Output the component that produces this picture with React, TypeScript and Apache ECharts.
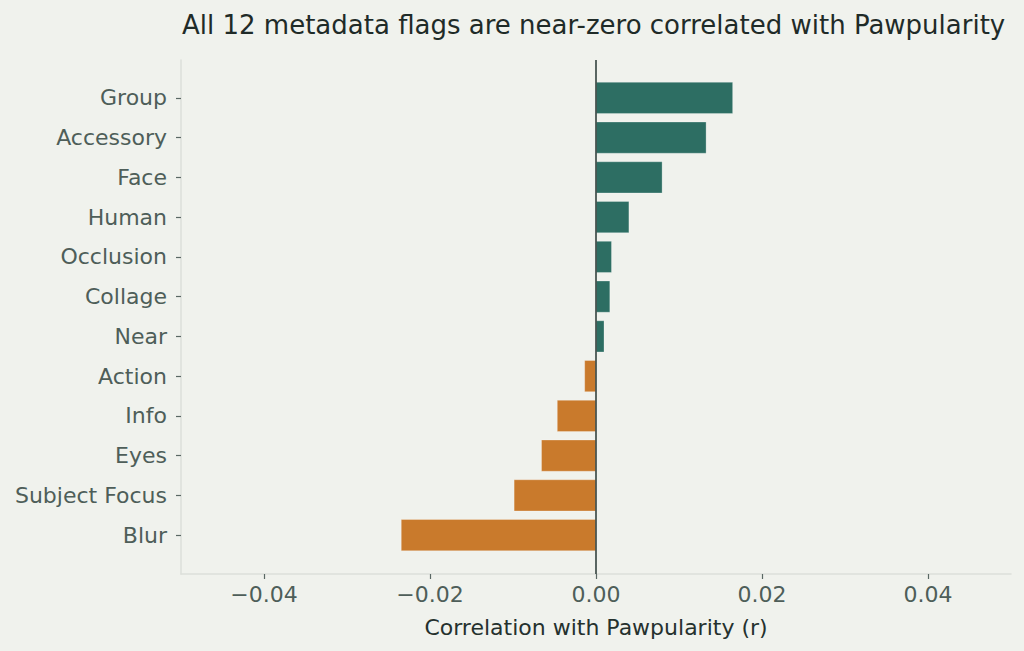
import { useEffect, useRef } from "react";
import * as echarts from "echarts";

const flags = [
  "Group",
  "Accessory",
  "Face",
  "Human",
  "Occlusion",
  "Collage",
  "Near",
  "Action",
  "Info",
  "Eyes",
  "Subject Focus",
  "Blur",
];
const correlations = [
  0.0165, 0.0133, 0.008, 0.004, 0.0019, 0.0017, 0.001, -0.0014, -0.0047,
  -0.0066, -0.0099, -0.0235,
];
const xTicks = [-0.04, -0.02, 0, 0.02, 0.04];

const POS = "#2d6e63";
const NEG = "#c97a2c";
const FONT = "'DejaVu Sans', sans-serif";

function fmt(v: number) {
  const s = Math.abs(v).toFixed(2);
  return v < 0 ? "\u2212" + s : s;
}

export default function App() {
  const chartRef = useRef<HTMLDivElement>(null);

  useEffect(() => {
    document.body.style.margin = "0";
    if (!chartRef.current) return;
    const chart = echarts.init(chartRef.current, undefined, { renderer: "svg" });

    const option: any = {
      animation: false,
      backgroundColor: "#f0f2ed",
      textStyle: { fontFamily: FONT },
      title: {
        text: "All 12 metadata flags are near-zero correlated with Pawpularity",
        left: 182,
        top: 12,
        padding: 0,
        textStyle: {
          fontFamily: FONT,
          fontSize: 26,
          fontWeight: "normal",
          color: "#1f2b28",
        },
      },
      grid: [
        { left: 181, right: 13, top: 60, bottom: 77 },
        { left: 181, right: 13, top: 78, bottom: 96 },
      ],
      xAxis: [
        {
          gridIndex: 0,
          type: "value",
          min: -0.05,
          max: 0.05,
          splitLine: { show: false },
          axisLine: {
            show: true,
            onZero: false,
            lineStyle: { color: "#dcdfda", width: 1.5 },
          },
          axisTick: {
            show: true,
            customValues: xTicks,
            length: 5,
            lineStyle: { color: "#5a6864", width: 1.2 },
          },
          axisLabel: {
            customValues: xTicks,
            formatter: (v: number) => fmt(v),
            color: "#4e5e59",
            fontSize: 22,
            fontFamily: FONT,
            margin: 9,
          },
          name: "Correlation with Pawpularity (r)",
          nameLocation: "middle",
          nameGap: 42,
          nameTextStyle: { color: "#25312e", fontSize: 22, fontFamily: FONT },
        },
        {
          gridIndex: 1,
          type: "value",
          min: -0.05,
          max: 0.05,
          show: false,
        },
      ],
      yAxis: [
        {
          gridIndex: 0,
          type: "value",
          min: 0,
          max: 1,
          splitLine: { show: false },
          axisTick: { show: false },
          axisLabel: { show: false },
          axisLine: {
            show: true,
            onZero: false,
            lineStyle: { color: "#dcdfda", width: 1.5 },
          },
        },
        {
          gridIndex: 1,
          type: "category",
          data: flags,
          inverse: true,
          axisLine: { show: false, onZero: false },
          axisTick: {
            show: true,
            alignWithLabel: true,
            length: 5,
            lineStyle: { color: "#5a6864", width: 1.2 },
          },
          axisLabel: {
            color: "#4e5e59",
            fontSize: 22,
            fontFamily: FONT,
            margin: 14,
          },
        },
      ],
      series: [
        {
          type: "bar",
          xAxisIndex: 1,
          yAxisIndex: 1,
          barCategoryGap: "20%",
          data: correlations.map((v) => ({
            value: v,
            itemStyle: { color: v >= 0 ? POS : NEG },
          })),
          itemStyle: { borderColor: "rgba(255,255,255,0.45)", borderWidth: 0.6 },
        },
        {
          type: "line",
          xAxisIndex: 0,
          yAxisIndex: 0,
          data: [],
          z: 5,
          markLine: {
            silent: true,
            symbol: "none",
            label: { show: false },
            lineStyle: { color: "#34423e", width: 1.6, type: "solid" },
            data: [{ xAxis: 0 }],
          },
        },
      ],
    };

    chart.setOption(option);
    return () => chart.dispose();
  }, []);

  return <div ref={chartRef} style={{ width: "1024px", height: "651px" }} />;
}
